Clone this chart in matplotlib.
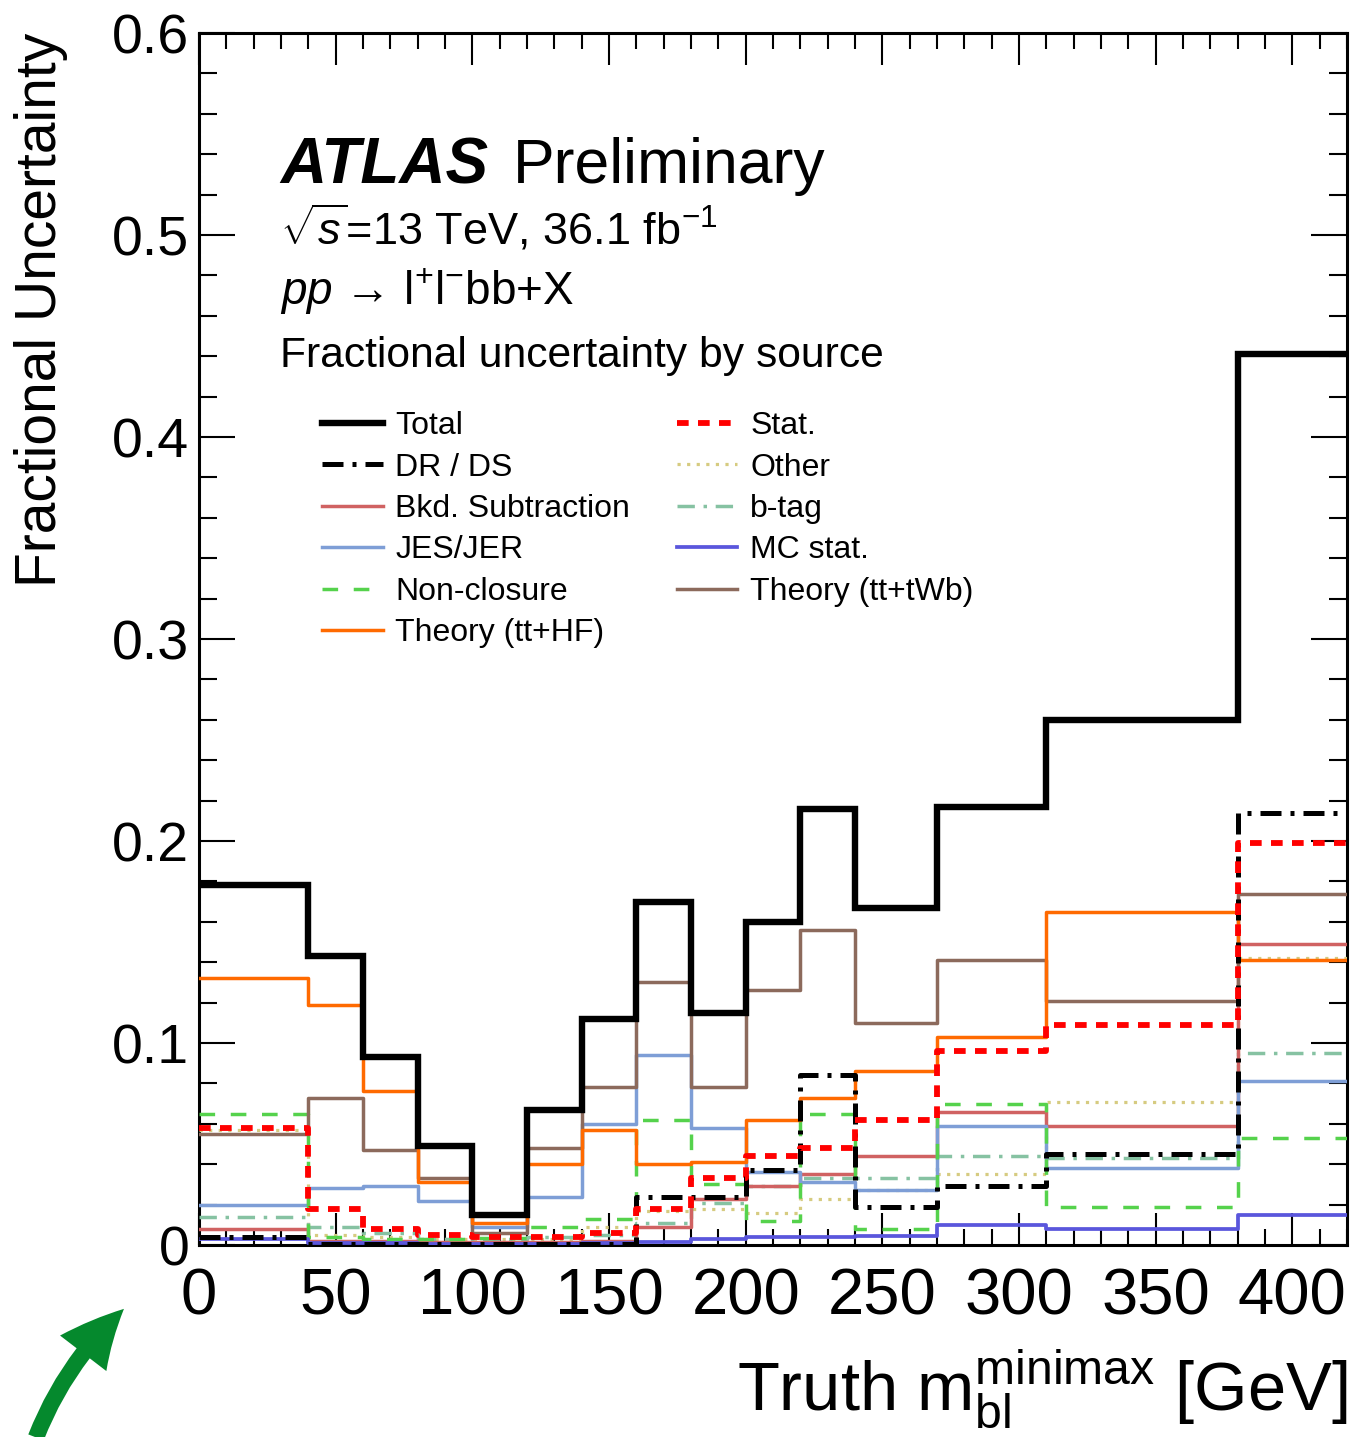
import numpy as np
import matplotlib
matplotlib.use("Agg")
import matplotlib.pyplot as plt
from matplotlib.patches import FancyArrowPatch
from matplotlib.ticker import MultipleLocator, FuncFormatter

plt.rcParams['font.family'] = ['Liberation Sans', 'DejaVu Sans']
plt.rcParams['mathtext.fontset'] = 'custom'
plt.rcParams['mathtext.rm'] = 'Liberation Sans'
plt.rcParams['mathtext.it'] = 'Liberation Sans:italic'
plt.rcParams['mathtext.bf'] = 'Liberation Sans:bold'

# Bin edges of truth m_bl^minimax [GeV]
edges = [0, 40, 60, 80, 100, 120, 140, 160, 180, 200, 220, 240, 270, 310, 380, 420]

# Fractional uncertainty per bin, by source
total      = [0.178, 0.143, 0.093, 0.049, 0.015, 0.067, 0.112, 0.170, 0.115, 0.160, 0.216, 0.167, 0.217, 0.260, 0.441]
dr_ds      = [0.004, 0.0005, 0.0005, 0.0005, 0.0005, 0.0005, 0.0005, 0.024, 0.024, 0.037, 0.084, 0.019, 0.029, 0.045, 0.214]
bkd_sub    = [0.008, 0.002, 0.002, 0.0015, 0.0015, 0.0015, 0.002, 0.009, 0.023, 0.029, 0.035, 0.044, 0.066, 0.059, 0.149]
jes_jer    = [0.020, 0.028, 0.029, 0.022, 0.009, 0.024, 0.060, 0.094, 0.058, 0.036, 0.031, 0.027, 0.059, 0.038, 0.081]
nonclosure = [0.065, 0.004, 0.003, 0.003, 0.0035, 0.009, 0.013, 0.062, 0.030, 0.012, 0.065, 0.008, 0.070, 0.019, 0.053]
theory_hf  = [0.132, 0.119, 0.076, 0.031, 0.011, 0.040, 0.057, 0.040, 0.041, 0.062, 0.073, 0.086, 0.103, 0.165, 0.141]
stat       = [0.058, 0.018, 0.008, 0.005, 0.004, 0.004, 0.006, 0.018, 0.033, 0.044, 0.048, 0.062, 0.096, 0.109, 0.199]
other      = [0.057, 0.005, 0.004, 0.003, 0.003, 0.003, 0.009, 0.017, 0.018, 0.016, 0.023, 0.027, 0.035, 0.071, 0.142]
btag       = [0.014, 0.009, 0.006, 0.003, 0.003, 0.004, 0.005, 0.011, 0.021, 0.029, 0.033, 0.033, 0.044, 0.043, 0.095]
mc_stat    = [0.003, 0.001, 0.001, 0.0007, 0.0007, 0.0007, 0.001, 0.0015, 0.003, 0.004, 0.004, 0.0045, 0.010, 0.008, 0.015]
theory_tw  = [0.055, 0.073, 0.047, 0.033, 0.006, 0.048, 0.078, 0.130, 0.078, 0.126, 0.156, 0.110, 0.141, 0.121, 0.174]

x_ticks = [0, 50, 100, 150, 200, 250, 300, 350, 400]
y_ticks = [0, 0.1, 0.2, 0.3, 0.4, 0.5, 0.6]

W, H = 1356, 1437
fig = plt.figure(figsize=(W / 100, H / 100), dpi=100)
ax = fig.add_axes([199 / W, 1 - 1245 / H, (1347 - 199) / W, (1245 - 33) / H])


def fx(px):
    return px / W


def fy(py):
    return 1 - py / H


def step(vals, **kw):
    y = np.append(vals, vals[-1])
    return ax.plot(edges, y, drawstyle='steps-post', **kw)[0]


series = [
    # (values, label, style)
    (total, 'Total', dict(color='black', lw=4.6, solid_joinstyle='miter', zorder=12)),
    (dr_ds, 'DR / DS', dict(color='black', lw=3.6, dashes=(4.2, 1.8, 0.8, 1.8), zorder=9)),
    (bkd_sub, 'Bkd. Subtraction', dict(color='#D06262', lw=2.5, zorder=5)),
    (jes_jer, 'JES/JER', dict(color='#7E9ED6', lw=2.5, zorder=5)),
    (nonclosure, 'Non-closure', dict(color='#55D24C', lw=2.5, dashes=(4.5, 4.5), zorder=6)),
    (theory_hf, 'Theory (tt+HF)', dict(color='#FF6A00', lw=2.5, zorder=7)),
    (stat, 'Stat.', dict(color='#FF0000', lw=4.2, dashes=(2.0, 1.6), zorder=10)),
    (other, 'Other', dict(color='#D6CB80', lw=2.3, dashes=(1.0, 2.0), zorder=4)),
    (btag, 'b-tag', dict(color='#86C2A2', lw=2.5, dashes=(5.0, 2.5, 1.0, 2.5), zorder=4)),
    (mc_stat, 'MC stat.', dict(color='#5A56DC', lw=2.7, zorder=8)),
    (theory_tw, 'Theory (tt+tWb)', dict(color='#8C6A5C', lw=2.5, zorder=6)),
]

handles = []
for vals, label, style in series:
    handles.append(step(vals, label=label, **style))

ax.set_xlim(0, 420)
ax.set_ylim(0, 0.6)
ax.xaxis.set_minor_locator(MultipleLocator(10))
ax.yaxis.set_minor_locator(MultipleLocator(0.02))
ax.set_xticks(x_ticks)
ax.set_yticks(y_ticks)
ax.xaxis.set_major_formatter(FuncFormatter(lambda v, p: f'{v:.0f}'))
ax.yaxis.set_major_formatter(FuncFormatter(lambda v, p: '0' if abs(v) < 1e-9 else f'{v:.1f}'))

ax.tick_params(which='both', direction='in', top=True, right=True, width=1.5)
ax.tick_params(axis='x', which='major', length=23, labelsize=47, pad=16)
ax.tick_params(axis='x', which='minor', length=11.5)
ax.tick_params(axis='y', which='major', length=26, labelsize=40, pad=7)
ax.tick_params(axis='y', which='minor', length=13)
for sp in ax.spines.values():
    sp.set_linewidth(2.2)

# Axis titles
fig.text(fx(41), fy(33), 'Fractional Uncertainty', rotation=90, ha='center', va='top', fontsize=41)
fig.text(fx(1347), fy(1410), r'Truth m$_{\rm bl}^{\rm minimax}$ [GeV]', ha='right', va='baseline', fontsize=49.5)

# Labels
fig.text(fx(280), fy(183), 'ATLAS', fontsize=46, fontweight='bold', fontstyle='italic', va='baseline')
fig.text(fx(513), fy(183), 'Preliminary', fontsize=45, va='baseline')
fig.text(fx(280), fy(245), r'$\sqrt{s}$=13 TeV, 36.1 fb$^{-1}$', fontsize=32.5, va='baseline')
fig.text(fx(280), fy(305), r'$pp$ → l$^{+}$l$^{-}$bb+X', fontsize=33, va='baseline')
fig.text(fx(280), fy(367), 'Fractional uncertainty by source', fontsize=30.7, va='baseline')

leg = fig.legend(handles=handles, ncol=2, loc='upper left',
                 bbox_to_anchor=(fx(322), fy(411)), bbox_transform=fig.transFigure,
                 frameon=False, fontsize=23, borderpad=0, borderaxespad=0,
                 handlelength=1.9, handletextpad=0.4, labelspacing=0.36,
                 columnspacing=1.45)

# Pointer arrow
arrow = FancyArrowPatch((fx(35), fy(1440)), (fx(126), fy(1307)),
                        transform=fig.transFigure,
                        arrowstyle='simple,head_length=0.62,head_width=0.6,tail_width=0.17',
                        mutation_scale=70, connectionstyle='arc3,rad=-0.12',
                        color='#05892D', lw=0)
fig.patches.append(arrow)

fig.savefig('out.png', dpi=100)
